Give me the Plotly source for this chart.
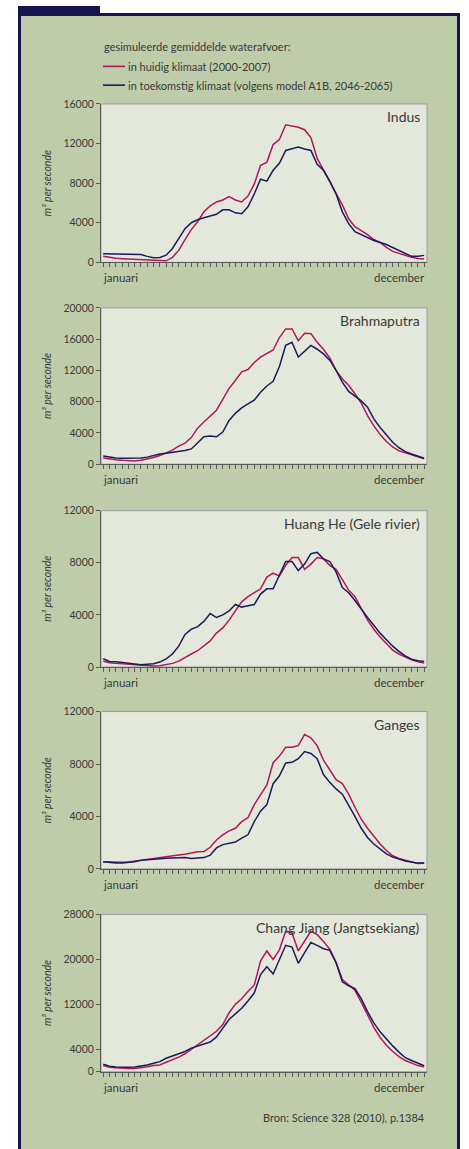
import plotly.graph_objects as go

# ---------------- data (52 weekly points, januari .. december) ----------------
weeks = list(range(52))

indus_now = [600, 480, 400, 360, 330, 300, 270, 240, 210, 180, 150, 500, 1200, 2300, 3300, 4100,
             5100, 5700, 6100, 6300, 6650, 6300, 6100, 6700, 7900, 9800, 10100, 11900, 12400, 13900,
             13800, 13650, 13400, 12600, 10500, 9300, 8200, 7000, 5800, 4400, 3600, 3200, 2800, 2300,
             2000, 1500, 1100, 900, 700, 500, 380, 330]
indus_fut = [870, 850, 820, 800, 800, 800, 780, 600, 450, 480, 720, 1400, 2400, 3400, 4000, 4300,
             4500, 4700, 4850, 5300, 5300, 5000, 4900, 5600, 6900, 8400, 8200, 9300, 10000, 11300,
             11500, 11650, 11450, 11300, 9900, 9300, 8200, 6900, 5100, 3900, 3100, 2800, 2500, 2200,
             2000, 1800, 1500, 1200, 900, 600, 600, 700]

brahma_now = [800, 650, 560, 500, 460, 420, 500, 650, 850, 1100, 1400, 1800, 2300, 2700, 3400, 4600,
              5400, 6200, 6900, 8300, 9700, 10700, 11800, 12100, 13000, 13700, 14100, 14600, 16200,
              17300, 17300, 15800, 16750, 16700, 15600, 14700, 13600, 12000, 10900, 10100, 9000, 7800,
              6200, 4900, 3800, 2900, 2200, 1700, 1450, 1150, 950, 700]
brahma_fut = [1050, 900, 800, 760, 760, 760, 780, 900, 1100, 1300, 1400, 1500, 1600, 1750, 1950, 2700,
              3500, 3600, 3500, 4100, 5600, 6500, 7200, 7700, 8200, 9200, 10000, 10600, 12500, 15200,
              15600, 13700, 14500, 15200, 14700, 14100, 13300, 12000, 10500, 9300, 8700, 8100, 7300,
              5800, 4700, 3700, 2800, 2100, 1600, 1300, 1000, 760]

huang_now = [450, 330, 280, 240, 200, 160, 130, 110, 80, 100, 200, 280, 450, 750, 1000, 1250, 1600,
             2000, 2600, 3000, 3600, 4300, 5000, 5400, 5700, 6000, 6900, 7200, 7000, 7800, 8400, 8400,
             7500, 7900, 8400, 8300, 7800, 7500, 6700, 5900, 5400, 4500, 3600, 2900, 2300, 1800, 1300,
             1000, 750, 550, 400, 300]
huang_fut = [630, 430, 400, 330, 280, 230, 180, 200, 250, 380, 630, 1000, 1600, 2500, 2900, 3100, 3500,
             4100, 3800, 4000, 4300, 4800, 4600, 4700, 4800, 5600, 6000, 6000, 7000, 8100, 8100, 7400,
             7900, 8700, 8800, 8300, 8100, 7300, 6100, 5700, 5100, 4400, 3800, 3200, 2600, 2100, 1600,
             1200, 850, 600, 480, 430]

ganges_now = [550, 520, 500, 510, 530, 600, 680, 760, 820, 880, 940, 1000, 1060, 1120, 1200, 1300,
              1320, 1650, 2200, 2600, 2900, 3100, 3600, 3900, 4900, 5600, 6400, 8100, 8600, 9270, 9270,
              9400, 10250, 10000, 9400, 8300, 7600, 6800, 6500, 5700, 4700, 3800, 3100, 2500, 1900,
              1400, 1000, 800, 650, 520, 420, 430]
ganges_fut = [550, 480, 450, 450, 480, 550, 650, 700, 740, 780, 810, 840, 860, 860, 800, 810, 860,
              1050, 1600, 1850, 1950, 2050, 2350, 2600, 3600, 4400, 4900, 6500, 7100, 8080, 8130, 8400,
              8950, 8800, 8400, 7200, 6600, 6100, 5700, 4900, 4000, 3100, 2400, 1900, 1500, 1150, 900,
              720, 600, 520, 440, 450]

chang_now = [1100, 800, 700, 600, 590, 600, 700, 900, 1100, 1200, 1700, 2100, 2600, 3200, 4000, 4800,
             5700, 6500, 7200, 8400, 10500, 12000, 13000, 14300, 15400, 19700, 21500, 20000, 21700,
             25000, 24700, 21500, 23200, 25000, 24400, 23200, 21800, 19500, 16400, 15500, 14500, 12400,
             10000, 7900, 6100, 4700, 3600, 2700, 2000, 1500, 1100, 880]
chang_fut = [1350, 1000, 850, 780, 780, 850, 1000, 1200, 1500, 1800, 2400, 2800, 3100, 3600, 4200,
             4600, 4900, 5300, 6200, 7700, 9300, 10300, 11300, 12600, 14000, 17300, 18700, 17400,
             19800, 22500, 22200, 19300, 21200, 23000, 22500, 21900, 21600, 19400, 16000, 15300, 14800,
             13000, 10700, 8700, 7100, 5800, 4600, 3500, 2500, 2000, 1500, 1060]

rivers = ["Indus", "Brahmaputra", "Huang He (Gele rivier)", "Ganges", "Chang Jiang (Jangtsekiang)"]
now_series = [indus_now, brahma_now, huang_now, ganges_now, chang_now]
fut_series = [indus_fut, brahma_fut, huang_fut, ganges_fut, chang_fut]
y_max = [16000, 20000, 12000, 12000, 28000]
y_ticks = [[0, 4000, 8000, 12000, 16000],
           [0, 4000, 8000, 12000, 16000, 20000],
           [0, 4000, 8000, 12000],
           [0, 4000, 8000, 12000],
           [0, 4000, 12000, 20000, 28000]]

legend_title = "gesimuleerde gemiddelde waterafvoer:"
legend_now = "in huidig klimaat (2000-2007)"
legend_fut = "in toekomstig klimaat (volgens model A1B, 2046-2065)"
x_left_label = "januari"
x_right_label = "december"
y_title = "m³ per seconde"
source = "Bron: Science 328 (2010), p.1384"

# ---------------- styling ----------------
W, H = 469, 1149
FONT = "Lato"
RED = "#b3175a"
NAVY = "#1b1a5c"
FRAME = "#17144f"
GREEN = "#bfcca9"
PLOTBG = "#e3e8da"
TXT = "#3a3a3a"


def px(x):
    return x / W


def py(y):
    return 1 - y / H


panel_px = [(99, 259), (305, 463), (510, 668), (713, 872), (918, 1077)]
x_dom = [px(101), px(427)]

fig = go.Figure()
shapes = [
    dict(type="rect", xref="paper", yref="paper", x0=px(18), x1=px(460), y0=py(1170), y1=py(7),
         fillcolor=FRAME, line=dict(width=0), layer="below"),
    dict(type="rect", xref="paper", yref="paper", x0=px(18), x1=px(100), y0=py(8), y1=py(0),
         fillcolor=FRAME, line=dict(width=0), layer="below"),
    dict(type="rect", xref="paper", yref="paper", x0=px(21), x1=px(457), y0=py(1170), y1=py(10),
         fillcolor=GREEN, line=dict(width=0), layer="below"),
]
annotations = []
layout_axes = {}

for k in range(5):
    n = k + 1
    xa = "x" if n == 1 else f"x{n}"
    ya = "y" if n == 1 else f"y{n}"
    xkey = "xaxis" if n == 1 else f"xaxis{n}"
    ykey = "yaxis" if n == 1 else f"yaxis{n}"
    top, bot = panel_px[k]
    layout_axes[xkey] = dict(domain=x_dom, anchor=ya, range=[-0.35, 51.45], showgrid=False,
                             zeroline=False, showline=True, linecolor="#5a5a5a", linewidth=1,
                             ticks="outside", tick0=0, dtick=1, ticklen=4, tickcolor="#5a5a5a",
                             showticklabels=False, fixedrange=True)
    layout_axes[ykey] = dict(domain=[py(bot), py(top)], anchor=xa, range=[0, y_max[k]],
                             tickvals=y_ticks[k], ticktext=[str(v) for v in y_ticks[k]],
                             showgrid=False, zeroline=False, showline=True, linecolor="#5a5a5a",
                             linewidth=1, ticks="outside", ticklen=4, tickcolor="#5a5a5a",
                             tickfont=dict(family=FONT, size=10.5, color=TXT), fixedrange=True)
    shapes.append(dict(type="rect", xref=f"{xa} domain", yref=f"{ya} domain", x0=0, x1=1, y0=0, y1=1,
                       fillcolor=PLOTBG, line=dict(color="#9c9c9c", width=1), layer="below"))
    fig.add_trace(go.Scatter(x=weeks, y=now_series[k], mode="lines", xaxis=xa, yaxis=ya,
                             line=dict(color=RED, width=1.5), showlegend=False, hoverinfo="skip"))
    fig.add_trace(go.Scatter(x=weeks, y=fut_series[k], mode="lines", xaxis=xa, yaxis=ya,
                             line=dict(color=NAVY, width=1.5), showlegend=False, hoverinfo="skip"))
    annotations.append(dict(text=rivers[k], xref=f"{xa} domain", yref=f"{ya} domain", x=0.985, y=0.985,
                            xanchor="right", yanchor="top", showarrow=False,
                            font=dict(family=FONT, size=14, color=TXT)))
    annotations.append(dict(text=x_left_label, xref=f"{xa} domain", yref=f"{ya} domain", x=0, y=0,
                            yshift=-7, xanchor="left", yanchor="top", showarrow=False,
                            font=dict(family=FONT, size=11.5, color=TXT)))
    annotations.append(dict(text=x_right_label, xref=f"{xa} domain", yref=f"{ya} domain", x=1, y=0,
                            yshift=-7, xanchor="right", yanchor="top", showarrow=False,
                            font=dict(family=FONT, size=11.5, color=TXT)))
    annotations.append(dict(text=f"<i>{y_title}</i>", xref="paper", yref=f"{ya} domain", x=px(47), y=0.5,
                            textangle=-90, xanchor="center", yanchor="middle", showarrow=False,
                            font=dict(family=FONT, size=10.5, color=TXT)))

# legend (manual)
annotations.append(dict(text=legend_title, xref="paper", yref="paper", x=px(102), y=py(41),
                        xanchor="left", yanchor="middle", showarrow=False,
                        font=dict(family=FONT, size=11, color=TXT)))
for yy, col, txt in [(61, RED, legend_now), (80, NAVY, legend_fut)]:
    shapes.append(dict(type="line", xref="paper", yref="paper", x0=px(103), x1=px(125), y0=py(yy), y1=py(yy),
                       line=dict(color=col, width=1.6)))
    annotations.append(dict(text=txt, xref="paper", yref="paper", x=px(126), y=py(yy),
                            xanchor="left", yanchor="middle", showarrow=False,
                            font=dict(family=FONT, size=11, color=TXT)))

annotations.append(dict(text=source, xref="paper", yref="paper", x=px(427), y=py(1123),
                        xanchor="right", yanchor="middle", showarrow=False,
                        font=dict(family=FONT, size=11, color=TXT)))

fig.update_layout(width=W, height=H, margin=dict(l=0, r=0, t=0, b=0), paper_bgcolor="white",
                  plot_bgcolor="rgba(0,0,0,0)", shapes=shapes, annotations=annotations,
                  showlegend=False, **layout_axes)
fig.write_html("out.html", config={"displayModeBar": False},
               post_script="document.body.style.margin='0';document.body.style.overflow='hidden';")
